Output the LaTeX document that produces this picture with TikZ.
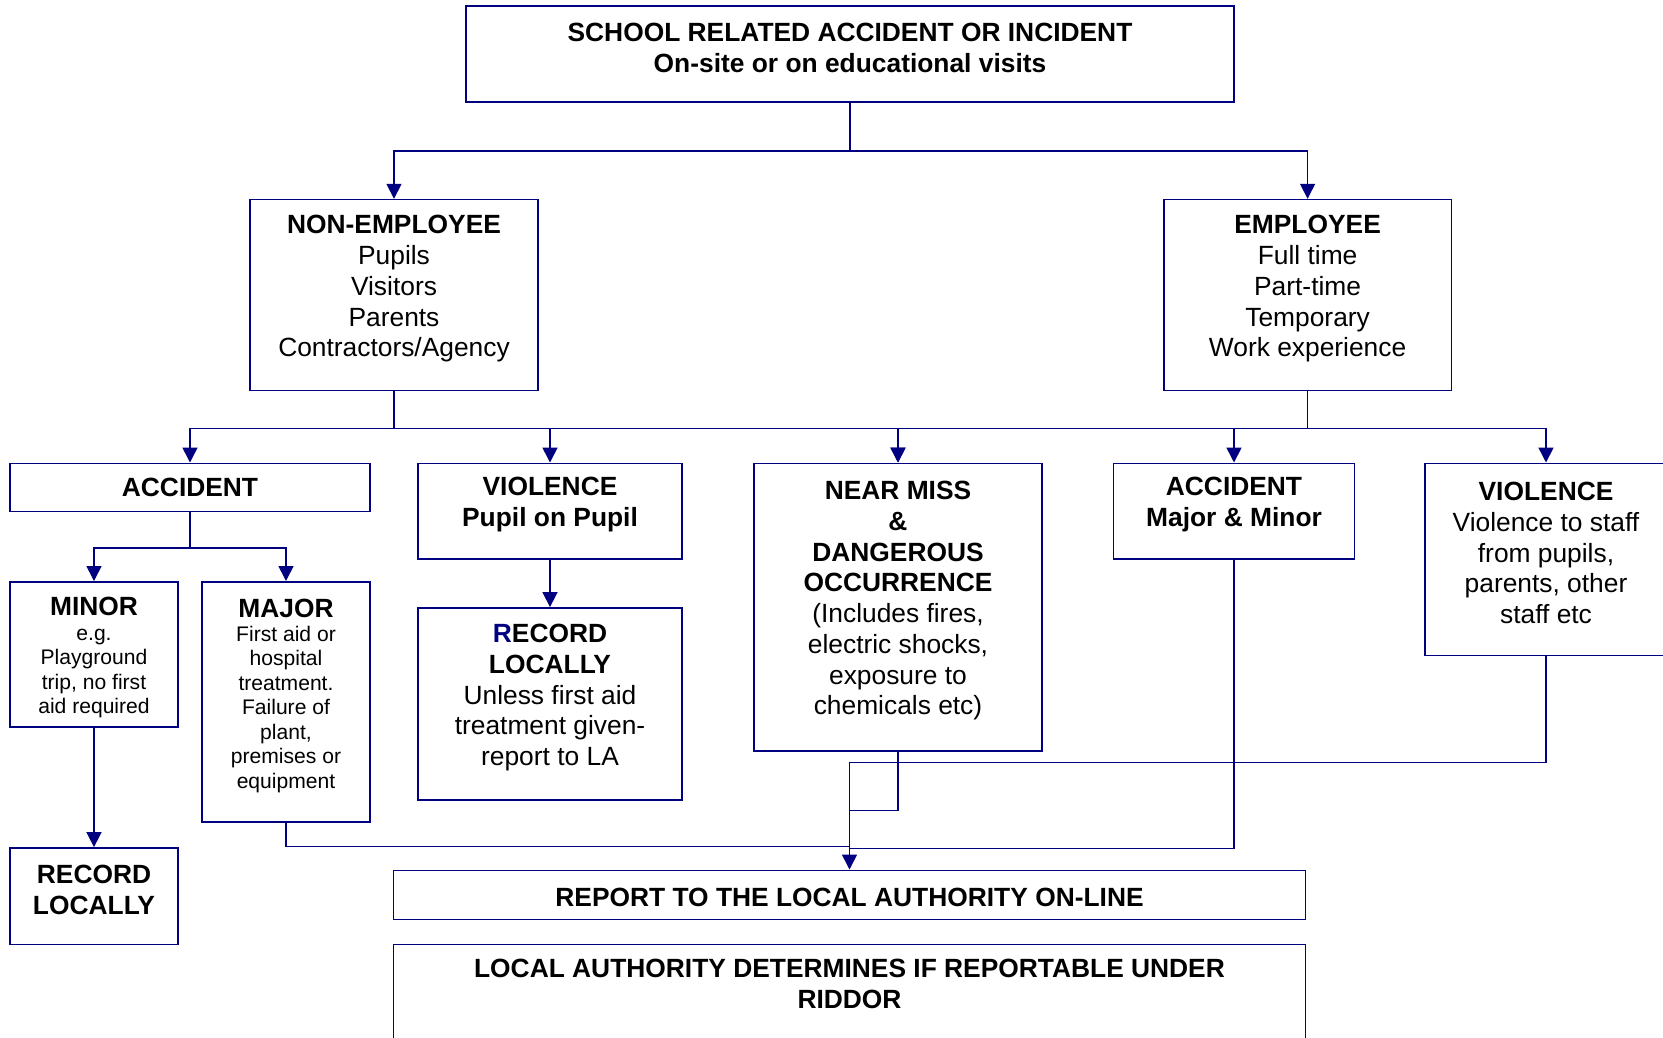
\documentclass[tikz,border=0pt]{standalone}
\usepackage{fontspec}
\setmainfont{Liberation Sans}
\usetikzlibrary{positioning, arrows.meta, calc}
\definecolor{navy}{RGB}{0,0,128}
\newcommand{\bodysize}{\fontsize{15}{17.5}\selectfont}
\newcommand{\notesize}{\fontsize{12}{13.9}\selectfont}

\begin{document}
\begin{tikzpicture}[
    >={Triangle[width=8.5pt,length=8.5pt]},
    % Styles
    base/.style={rectangle, draw=navy, line width=0.9pt, align=flush center, inner xsep=0pt, inner ysep=2pt, font=\bodysize},
    head/.style={base, font=\bodysize\bfseries},
    note/.style={base, font=\notesize},
    lift/.style={text height=0.12cm},
    conn/.style={draw=navy, line width=0.9pt}
]
    \useasboundingbox (0,0) rectangle (33.26,-20.74);

    % --- Level 1: Incident ---
    \node [head, lift, text width=15.36cm, minimum height=1.92cm] (school) at (17.0,-1.08) {SCHOOL RELATED ACCIDENT OR INCIDENT\\ On-site or on educational visits};

    % --- Level 2: Who is involved ---
    \node [base, lift, text width=5.75cm, minimum height=3.82cm, below=1.92cm of school, xshift=-9.12cm] (nonemp) {\textbf{NON-EMPLOYEE}\\ Pupils\\ Visitors\\ Parents\\ Contractors/Agency};
    \node [base, lift, text width=5.75cm, minimum height=3.82cm, right=12.49cm of nonemp] (emp) {\textbf{EMPLOYEE}\\ Full time\\ Part-time\\ Temporary\\ Work experience};

    % --- Level 3: Type of event ---
    \node [head, text width=7.21cm, minimum height=0.96cm, anchor=north] (accident) at (3.80,-9.25) {ACCIDENT};
    \node [head, lift, text width=5.28cm, minimum height=1.91cm, anchor=north] (violence) at (11.0,-9.25) {VIOLENCE\\ Pupil on Pupil};
    \node [base, lift, text width=5.75cm, minimum height=5.75cm, anchor=north] (nearmiss) at (17.96,-9.25) {\textbf{NEAR MISS}\\ \textbf{\&}\\ \textbf{DANGEROUS}\\ \textbf{OCCURRENCE}\\ (Includes fires,\\ electric shocks,\\ exposure to\\ chemicals etc)};
    \node [head, lift, text width=4.82cm, minimum height=1.91cm, anchor=north] (accmm) at (24.68,-9.25) {ACCIDENT\\ Major \& Minor};
    \node [base, lift, text width=4.84cm, minimum height=3.84cm, anchor=north] (violstaff) at (30.92,-9.25) {\textbf{VIOLENCE}\\ Violence to staff\\ from pupils,\\ parents, other\\ staff etc};

    % --- Level 4: Outcome ---
    \node [note, text height=0.5cm, text width=3.37cm, minimum height=2.90cm, anchor=north] (minor) at (1.88,-11.62) {{\bodysize\bfseries MINOR}\\ e.g.\\ Playground\\ trip, no first\\ aid required};
    \node [note, lift, text width=3.37cm, minimum height=4.80cm, anchor=north] (major) at (5.72,-11.62) {{\bodysize\bfseries MAJOR}\\ First aid or\\ hospital\\ treatment.\\ Failure of\\ plant,\\ premises or\\ equipment};
    \node [head, lift, text width=3.37cm, minimum height=1.93cm, below=2.39cm of minor] (reclocal) {RECORD\\ LOCALLY};
    \node [base, lift, text width=5.28cm, minimum height=3.84cm, below=0.95cm of violence] (recordla) {\textbf{{\color{navy}R}ECORD}\\ \textbf{LOCALLY}\\ Unless first aid\\ treatment given-\\ report to LA};

    % --- Level 5: Reporting ---
    \node [head, text height=0.48cm, text width=18.24cm, minimum height=0.98cm, anchor=north] (report) at (16.99,-17.39) {REPORT TO THE LOCAL AUTHORITY ON-LINE};
    \node [head, text width=18.24cm, inner ysep=0.30cm, text depth=1.6cm, below=0.47cm of report] (riddor) {LOCAL AUTHORITY DETERMINES IF REPORTABLE UNDER\\ RIDDOR};

    % --- Connections ---
    \draw [conn, ->] (school.south) -- ++(0,-0.96) coordinate (topsplit) -| (nonemp.north);
    \draw [conn, ->] (topsplit) -| (emp.north);

    \draw [conn, ->] (nonemp.south) -- ++(0,-0.74) coordinate (busl) -| (accident.north);
    \draw [conn, ->] (busl) -| (violence.north);
    \draw [conn, ->] (busl) -| (nearmiss.north);
    \draw [conn, ->] (emp.south) -- ++(0,-0.74) coordinate (busr) -| (nearmiss.north);
    \draw [conn, ->] (busr) -| (accmm.north);
    \draw [conn, ->] (busr) -| (violstaff.north);

    \draw [conn, ->] (accident.south) -- ++(0,-0.72) coordinate (accsplit) -| (minor.north);
    \draw [conn, ->] (accsplit) -| (major.north);
    \draw [conn, ->] (minor) -- (reclocal);
    \draw [conn, ->] (violence) -- (recordla);

    % Into the report
    \draw [conn, ->] (violstaff.south) |- ($(report.north)+(0,2.14)$) -- (report.north);
    \draw [conn] (nearmiss.south) |- ($(report.north)+(0,1.18)$);
    \draw [conn] (major.south) |- ($(report.north)+(0,0.46)$);
    \draw [conn] (accmm.south) |- ($(report.north)+(0,0.42)$);

\end{tikzpicture}
\end{document}
